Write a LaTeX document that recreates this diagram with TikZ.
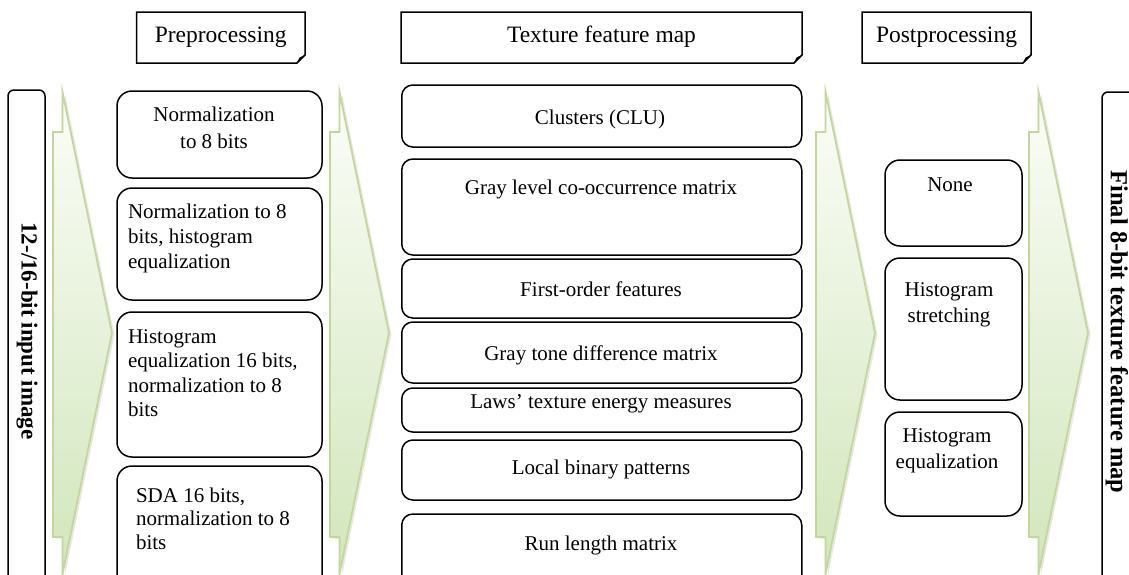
\documentclass[tikz,border=0pt]{standalone}
\usepackage{fontspec}
\setmainfont{Liberation Serif}
\usetikzlibrary{shadows}
\definecolor{gedge}{RGB}{195,214,155}
\definecolor{gtop}{RGB}{251,253,248}
\definecolor{gbot}{RGB}{210,230,188}
\tikzset{
  bx/.style={draw=black, line width=1.5pt, inner sep=0pt, outer sep=0pt},
  prebox/.style={bx, rounded corners=15pt, minimum width=205pt},
  texbox/.style={bx, rounded corners=11pt, minimum width=400pt},
  postbox/.style={bx, rounded corners=15pt, minimum width=137pt},
  tallbox/.style={bx, rounded corners=6pt},
  hdrnode/.style={inner sep=0pt, outer sep=0pt, font=\fontsize{23.5}{27}\selectfont},
  hdrline/.style={draw=black, line width=1.5pt, line join=miter},
  txt/.style={inner sep=0pt, outer sep=0pt, font=\fontsize{21}{25}\selectfont},
  vtxt/.style={inner sep=0pt, outer sep=0pt, font=\fontsize{23}{27}\selectfont\bfseries, rotate=-90},
  garrow/.style={draw=gedge, line width=1.8pt, line join=miter, top color=gtop, bottom color=gbot,
     drop shadow={opacity=0.18, shadow xshift=2.5pt, shadow yshift=-1.5pt}},
}
\newcommand\foldhdr[1]{%
  \draw[hdrline] (#1.north west) -- (#1.north east) -- ([yshift=8pt]#1.south east)
     -- ([xshift=-8pt]#1.south east) -- (#1.south west) -- cycle;
  \fill[black] ([yshift=8pt]#1.south east) -- ([xshift=-8pt]#1.south east)
     -- ([xshift=-5.5pt,yshift=5.5pt]#1.south east) -- cycle;}
\begin{document}
\begin{tikzpicture}[x=1pt,y=-1pt]
\useasboundingbox (0,0) rectangle (1129,574);
\clip (0,0) rectangle (1129,574);
\fill[white] (0,0) rectangle (1129,574);

% green block arrows
\foreach \L in {53,330,816,1029}{
  \path[garrow] ({\L+9.5},92) -- ({\L+59},333) -- ({\L+9.5},574) -- ({\L+9.5},537)
     -- (\L,537) -- (\L,132) -- ({\L+9.5},132) -- cycle;
}

% headers
\node[hdrnode, minimum width=168.5pt, minimum height=51pt] (hpre) at (220.75,37.5) {\raisebox{-1pt}{Preprocessing}};
\foldhdr{hpre}
\node[hdrnode, minimum width=401pt, minimum height=51pt] (htex) at (601.5,37.5) {\raisebox{7pt}{Texture feature map}};
\foldhdr{htex}
\node[hdrnode, minimum width=169pt, minimum height=51pt] (hpost) at (946.5,37.5) {\raisebox{-1pt}{Postprocessing}};
\foldhdr{hpost}

% input / output tall boxes
\node[tallbox, minimum width=37pt, minimum height=520pt] (inbox) at (26.5,350) {};
\node[vtxt] (intxt) at (27,331) {12-/16-bit input image};
\node[tallbox, minimum width=50pt, minimum height=520pt] (outbox) at (1127,352) {};
\node[vtxt, font=\fontsize{24.5}{28}\selectfont\bfseries] (outtxt) at (1117,332) {Final 8-bit texture feature map};

% preprocessing boxes
\node[prebox, minimum height=87pt] (p1) at (219.5,134.5) {};
\node[prebox, minimum height=112pt] (p2) at (219.5,244) {};
\node[prebox, minimum height=145pt] (p3) at (219.5,384.5) {};
\node[prebox, minimum height=130pt] (p4) at (219.5,531) {};
\node[txt, anchor=base, align=center, font=\fontsize{21}{27}\selectfont] (p1t) at (214,148) {Normalization\\ to 8 bits};
\node[txt, anchor=base west, align=left] (p2t) at (128,268) {Normalization to 8\\bits, histogram\\equalization};
\node[txt, anchor=base west, align=left, font=\fontsize{21}{24.5}\selectfont] (p3t) at (128,416.5) {Histogram\\equalization 16 bits,\\normalization to 8\\bits};
\node[txt, anchor=base west, align=left, font=\fontsize{21}{23.5}\selectfont] (p4t) at (136,549) {SDA 16 bits,\\normalization to 8\\bits};

% texture feature boxes
\node[texbox, minimum height=62pt] (t1) at (601.75,116) {};
\node[texbox, minimum height=96pt] (t2) at (601.75,207) {};
\node[texbox, minimum height=59pt] (t3) at (601.75,288.5) {};
\node[texbox, minimum height=61pt] (t4) at (601.75,352.5) {};
\node[texbox, minimum height=44pt] (t5) at (601.75,410) {};
\node[texbox, minimum height=60pt] (t6) at (601.75,470) {};
\node[texbox, minimum height=80pt] (t7) at (601.75,554) {};
\node[txt, anchor=base] (t1t) at (600,124) {Clusters (CLU)};
\node[txt, anchor=base] (t2t) at (601,194) {Gray level co-occurrence matrix};
\node[txt, anchor=base] (t3t) at (601,296) {First-order features};
\node[txt, anchor=base] (t4t) at (601,360) {Gray tone difference matrix};
\node[txt, anchor=base] (t5t) at (601,408) {Laws' texture energy measures};
\node[txt, anchor=base] (t6t) at (601,474) {Local binary patterns};
\node[txt, anchor=base] (t7t) at (601,550) {Run length matrix};

% postprocessing boxes
\node[postbox, minimum height=86pt] (q1) at (953.5,203) {};
\node[postbox, minimum height=142pt] (q2) at (953.5,329) {};
\node[postbox, minimum height=104pt] (q3) at (953.5,464) {};
\node[txt, anchor=base] (q1t) at (950,191) {None};
\node[txt, anchor=base, align=center, font=\fontsize{21}{26}\selectfont] (q2t) at (949,322) {Histogram\\stretching};
\node[txt, anchor=base, align=center, font=\fontsize{21}{26}\selectfont] (q3t) at (947,468) {Histogram\\equalization};
\end{tikzpicture}
\end{document}
